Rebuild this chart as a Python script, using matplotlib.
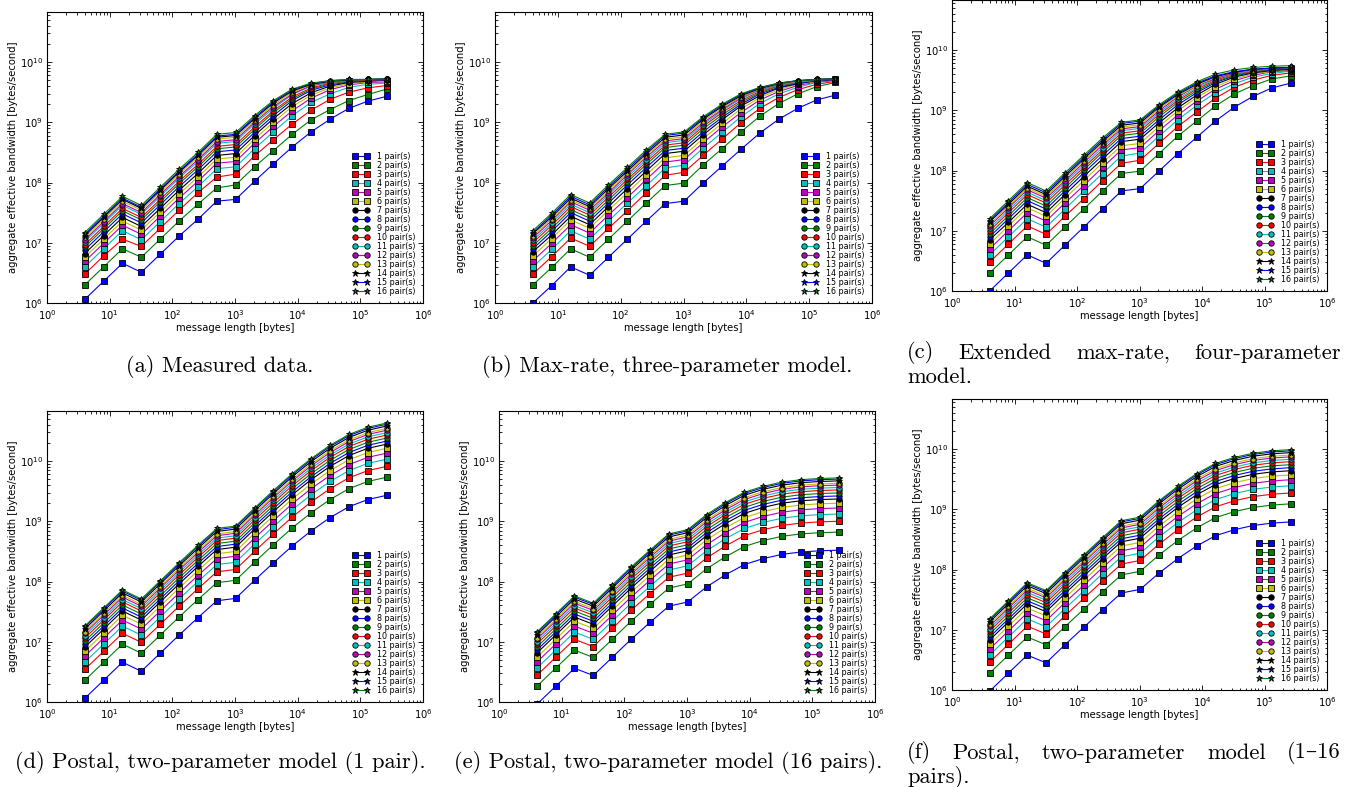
import numpy as np
import matplotlib
matplotlib.use('Agg')
import matplotlib.pyplot as plt
from matplotlib.ticker import FixedLocator, LogLocator, NullFormatter

# message sizes on the x axis [bytes]
msg_len = [4, 8, 16, 32, 64, 128, 256, 512, 1024, 2048, 4096, 8192,
           16384, 32768, 65536, 131072, 262144]
pairs = list(range(1, 17))
labels = ['%d pair(s)' % k for k in pairs]

# log10 of the aggregate effective bandwidth [bytes/second],
# one row per number of pairs (1..16), one column per message length

# (a) measured data
bw_measured = [
    [6.06, 6.36, 6.66, 6.51, 6.81, 7.11, 7.39, 7.69, 7.72, 8.02, 8.31, 8.59, 8.84, 9.05, 9.23, 9.35, 9.43],
    [6.30, 6.60, 6.90, 6.76, 7.06, 7.36, 7.64, 7.91, 7.96, 8.26, 8.53, 8.80, 9.04, 9.21, 9.36, 9.46, 9.55],
    [6.48, 6.78, 7.06, 6.94, 7.24, 7.54, 7.83, 8.09, 8.14, 8.44, 8.71, 8.97, 9.20, 9.38, 9.50, 9.57, 9.61],
    [6.60, 6.90, 7.20, 7.05, 7.35, 7.65, 7.93, 8.23, 8.26, 8.56, 8.84, 9.11, 9.33, 9.47, 9.58, 9.63, 9.65],
    [6.69, 6.99, 7.29, 7.14, 7.44, 7.74, 8.02, 8.32, 8.35, 8.65, 8.93, 9.19, 9.40, 9.54, 9.62, 9.66, 9.67],
    [6.76, 7.06, 7.36, 7.21, 7.51, 7.81, 8.09, 8.39, 8.42, 8.72, 9.00, 9.26, 9.45, 9.57, 9.64, 9.67, 9.69],
    [6.82, 7.12, 7.42, 7.27, 7.57, 7.87, 8.15, 8.45, 8.48, 8.78, 9.06, 9.31, 9.49, 9.60, 9.66, 9.68, 9.70],
    [6.88, 7.18, 7.48, 7.33, 7.63, 7.93, 8.21, 8.51, 8.54, 8.83, 9.11, 9.36, 9.53, 9.62, 9.67, 9.69, 9.70],
    [6.93, 7.23, 7.53, 7.38, 7.68, 7.98, 8.26, 8.56, 8.59, 8.88, 9.16, 9.39, 9.55, 9.64, 9.68, 9.70, 9.71],
    [6.97, 7.27, 7.57, 7.42, 7.72, 8.02, 8.30, 8.60, 8.63, 8.92, 9.19, 9.42, 9.57, 9.65, 9.69, 9.70, 9.71],
    [7.02, 7.32, 7.62, 7.47, 7.77, 8.07, 8.35, 8.65, 8.68, 8.97, 9.23, 9.46, 9.60, 9.66, 9.69, 9.71, 9.71],
    [7.05, 7.35, 7.65, 7.50, 7.80, 8.10, 8.38, 8.68, 8.71, 9.00, 9.26, 9.47, 9.61, 9.67, 9.70, 9.71, 9.71],
    [7.09, 7.39, 7.69, 7.54, 7.84, 8.14, 8.42, 8.72, 8.75, 9.03, 9.29, 9.50, 9.62, 9.68, 9.70, 9.71, 9.71],
    [7.12, 7.42, 7.72, 7.57, 7.87, 8.17, 8.45, 8.75, 8.78, 9.06, 9.32, 9.52, 9.63, 9.68, 9.70, 9.71, 9.72],
    [7.14, 7.44, 7.74, 7.59, 7.89, 8.19, 8.47, 8.77, 8.80, 9.08, 9.34, 9.54, 9.64, 9.69, 9.71, 9.71, 9.72],
    [7.17, 7.47, 7.77, 7.62, 7.92, 8.22, 8.50, 8.80, 8.83, 9.11, 9.36, 9.55, 9.65, 9.69, 9.71, 9.71, 9.72],
]

# (b) max-rate, three-parameter model
bw_maxrate = [
    [6.00, 6.29, 6.60, 6.46, 6.76, 7.06, 7.36, 7.65, 7.69, 7.99, 8.27, 8.55, 8.82, 9.05, 9.23, 9.37, 9.45],
    [6.30, 6.59, 6.90, 6.76, 7.06, 7.36, 7.66, 7.95, 7.99, 8.29, 8.56, 8.84, 9.10, 9.31, 9.47, 9.59, 9.66],
    [6.48, 6.77, 7.08, 6.94, 7.24, 7.53, 7.83, 8.12, 8.17, 8.45, 8.72, 8.99, 9.23, 9.41, 9.54, 9.63, 9.68],
    [6.60, 6.89, 7.20, 7.06, 7.36, 7.66, 7.95, 8.24, 8.29, 8.57, 8.83, 9.09, 9.31, 9.47, 9.58, 9.66, 9.69],
    [6.70, 6.99, 7.30, 7.16, 7.46, 7.75, 8.05, 8.34, 8.38, 8.66, 8.92, 9.16, 9.37, 9.51, 9.61, 9.67, 9.70],
    [6.78, 7.07, 7.38, 7.24, 7.54, 7.83, 8.13, 8.41, 8.45, 8.73, 8.98, 9.22, 9.41, 9.54, 9.63, 9.68, 9.71],
    [6.85, 7.13, 7.44, 7.30, 7.60, 7.90, 8.19, 8.48, 8.52, 8.79, 9.04, 9.27, 9.44, 9.57, 9.64, 9.69, 9.71],
    [6.90, 7.19, 7.50, 7.36, 7.66, 7.96, 8.25, 8.53, 8.57, 8.84, 9.08, 9.30, 9.47, 9.58, 9.65, 9.69, 9.71],
    [6.95, 7.24, 7.55, 7.41, 7.71, 8.01, 8.30, 8.58, 8.62, 8.89, 9.12, 9.33, 9.49, 9.60, 9.66, 9.70, 9.72],
    [7.00, 7.29, 7.60, 7.46, 7.76, 8.05, 8.34, 8.62, 8.66, 8.93, 9.16, 9.36, 9.51, 9.61, 9.67, 9.70, 9.72],
    [7.04, 7.33, 7.64, 7.50, 7.80, 8.09, 8.38, 8.66, 8.70, 8.96, 9.19, 9.39, 9.53, 9.62, 9.67, 9.70, 9.72],
    [7.08, 7.37, 7.68, 7.54, 7.83, 8.13, 8.42, 8.69, 8.73, 8.99, 9.21, 9.41, 9.54, 9.63, 9.68, 9.71, 9.72],
    [7.11, 7.40, 7.71, 7.57, 7.87, 8.16, 8.45, 8.72, 8.76, 9.02, 9.24, 9.42, 9.55, 9.64, 9.68, 9.71, 9.72],
    [7.15, 7.43, 7.74, 7.60, 7.90, 8.19, 8.48, 8.75, 8.79, 9.05, 9.26, 9.44, 9.56, 9.64, 9.69, 9.71, 9.72],
    [7.17, 7.46, 7.77, 7.63, 7.93, 8.22, 8.51, 8.78, 8.82, 9.07, 9.28, 9.46, 9.57, 9.65, 9.69, 9.71, 9.72],
    [7.20, 7.49, 7.80, 7.66, 7.96, 8.25, 8.54, 8.80, 8.84, 9.09, 9.30, 9.47, 9.58, 9.65, 9.69, 9.71, 9.72],
]

# (c) extended max-rate, four-parameter model
bw_extended = [
    [6.00, 6.30, 6.60, 6.46, 6.76, 7.06, 7.36, 7.66, 7.70, 7.99, 8.28, 8.55, 8.82, 9.05, 9.23, 9.37, 9.45],
    [6.30, 6.60, 6.90, 6.76, 7.06, 7.36, 7.66, 7.95, 7.99, 8.28, 8.57, 8.82, 9.07, 9.27, 9.41, 9.52, 9.57],
    [6.48, 6.78, 7.08, 6.94, 7.24, 7.53, 7.83, 8.12, 8.17, 8.45, 8.73, 8.97, 9.20, 9.38, 9.50, 9.58, 9.62],
    [6.60, 6.90, 7.20, 7.06, 7.36, 7.66, 7.95, 8.24, 8.29, 8.57, 8.84, 9.08, 9.29, 9.44, 9.55, 9.61, 9.65],
    [6.70, 7.00, 7.30, 7.16, 7.46, 7.75, 8.05, 8.34, 8.38, 8.66, 8.92, 9.15, 9.35, 9.49, 9.58, 9.64, 9.66],
    [6.78, 7.08, 7.38, 7.24, 7.54, 7.83, 8.13, 8.41, 8.45, 8.73, 8.99, 9.21, 9.39, 9.52, 9.60, 9.65, 9.68],
    [6.85, 7.14, 7.44, 7.30, 7.60, 7.90, 8.19, 8.48, 8.52, 8.79, 9.04, 9.25, 9.43, 9.55, 9.62, 9.66, 9.68],
    [6.90, 7.20, 7.50, 7.36, 7.66, 7.96, 8.25, 8.53, 8.57, 8.84, 9.09, 9.29, 9.46, 9.57, 9.63, 9.67, 9.69],
    [6.95, 7.25, 7.55, 7.41, 7.71, 8.01, 8.30, 8.58, 8.62, 8.89, 9.13, 9.32, 9.48, 9.58, 9.64, 9.68, 9.70],
    [7.00, 7.30, 7.60, 7.46, 7.76, 8.05, 8.34, 8.62, 8.66, 8.93, 9.16, 9.35, 9.50, 9.60, 9.65, 9.69, 9.70],
    [7.04, 7.34, 7.64, 7.50, 7.80, 8.09, 8.38, 8.66, 8.70, 8.96, 9.19, 9.37, 9.52, 9.61, 9.66, 9.69, 9.70],
    [7.08, 7.38, 7.68, 7.54, 7.83, 8.13, 8.42, 8.69, 8.73, 8.99, 9.22, 9.40, 9.53, 9.62, 9.67, 9.69, 9.71],
    [7.11, 7.41, 7.71, 7.57, 7.87, 8.16, 8.45, 8.72, 8.76, 9.02, 9.24, 9.41, 9.55, 9.63, 9.67, 9.70, 9.71],
    [7.15, 7.44, 7.74, 7.60, 7.90, 8.19, 8.48, 8.75, 8.79, 9.05, 9.26, 9.43, 9.56, 9.63, 9.68, 9.70, 9.71],
    [7.17, 7.47, 7.77, 7.63, 7.93, 8.22, 8.51, 8.78, 8.82, 9.07, 9.28, 9.45, 9.57, 9.64, 9.68, 9.70, 9.71],
    [7.20, 7.50, 7.80, 7.66, 7.96, 8.25, 8.54, 8.80, 8.84, 9.09, 9.30, 9.47, 9.60, 9.67, 9.71, 9.73, 9.74],
]

# (d) postal, two-parameter model fitted on 1 pair
bw_postal_1 = [
    [6.06, 6.36, 6.66, 6.51, 6.81, 7.11, 7.40, 7.68, 7.72, 8.02, 8.31, 8.59, 8.84, 9.06, 9.24, 9.36, 9.43],
    [6.36, 6.66, 6.96, 6.81, 7.11, 7.41, 7.70, 7.98, 8.02, 8.32, 8.61, 8.89, 9.14, 9.36, 9.54, 9.66, 9.73],
    [6.54, 6.84, 7.14, 6.99, 7.29, 7.59, 7.88, 8.16, 8.20, 8.50, 8.79, 9.07, 9.32, 9.54, 9.72, 9.84, 9.91],
    [6.66, 6.96, 7.26, 7.11, 7.41, 7.71, 8.00, 8.28, 8.32, 8.62, 8.91, 9.19, 9.44, 9.66, 9.84, 9.96, 10.03],
    [6.76, 7.06, 7.36, 7.21, 7.51, 7.81, 8.10, 8.38, 8.42, 8.72, 9.01, 9.29, 9.54, 9.76, 9.94, 10.06, 10.13],
    [6.84, 7.14, 7.44, 7.29, 7.59, 7.89, 8.18, 8.46, 8.50, 8.80, 9.09, 9.37, 9.62, 9.84, 10.02, 10.14, 10.21],
    [6.91, 7.21, 7.51, 7.36, 7.66, 7.96, 8.25, 8.53, 8.57, 8.87, 9.16, 9.44, 9.69, 9.91, 10.09, 10.21, 10.28],
    [6.96, 7.26, 7.56, 7.41, 7.71, 8.01, 8.30, 8.58, 8.62, 8.92, 9.21, 9.49, 9.74, 9.96, 10.14, 10.26, 10.33],
    [7.01, 7.31, 7.61, 7.46, 7.76, 8.06, 8.35, 8.63, 8.67, 8.97, 9.26, 9.54, 9.79, 10.01, 10.19, 10.31, 10.38],
    [7.06, 7.36, 7.66, 7.51, 7.81, 8.11, 8.40, 8.68, 8.72, 9.02, 9.31, 9.59, 9.84, 10.06, 10.24, 10.36, 10.43],
    [7.10, 7.40, 7.70, 7.55, 7.85, 8.15, 8.44, 8.72, 8.76, 9.06, 9.35, 9.63, 9.88, 10.10, 10.28, 10.40, 10.47],
    [7.14, 7.44, 7.74, 7.59, 7.89, 8.19, 8.48, 8.76, 8.80, 9.10, 9.39, 9.67, 9.92, 10.14, 10.32, 10.44, 10.51],
    [7.17, 7.47, 7.77, 7.62, 7.92, 8.22, 8.51, 8.79, 8.83, 9.13, 9.42, 9.70, 9.95, 10.17, 10.35, 10.47, 10.54],
    [7.21, 7.51, 7.81, 7.66, 7.96, 8.26, 8.55, 8.83, 8.87, 9.17, 9.46, 9.74, 9.99, 10.21, 10.39, 10.51, 10.58],
    [7.24, 7.54, 7.84, 7.69, 7.99, 8.29, 8.58, 8.86, 8.90, 9.20, 9.49, 9.77, 10.02, 10.24, 10.42, 10.54, 10.61],
    [7.26, 7.56, 7.86, 7.71, 8.01, 8.31, 8.60, 8.88, 8.92, 9.22, 9.51, 9.79, 10.04, 10.26, 10.44, 10.56, 10.63],
]

# (e) postal, two-parameter model fitted on 16 pairs
bw_postal_16 = [
    [5.96, 6.26, 6.56, 6.44, 6.74, 7.04, 7.32, 7.59, 7.66, 7.91, 8.11, 8.28, 8.38, 8.45, 8.49, 8.51, 8.52],
    [6.26, 6.56, 6.86, 6.74, 7.04, 7.34, 7.62, 7.89, 7.96, 8.21, 8.41, 8.58, 8.68, 8.75, 8.79, 8.81, 8.82],
    [6.44, 6.74, 7.04, 6.92, 7.22, 7.52, 7.80, 8.07, 8.14, 8.39, 8.59, 8.76, 8.86, 8.93, 8.97, 8.99, 9.00],
    [6.56, 6.86, 7.16, 7.04, 7.34, 7.64, 7.92, 8.19, 8.26, 8.51, 8.71, 8.88, 8.98, 9.05, 9.09, 9.11, 9.12],
    [6.66, 6.96, 7.26, 7.14, 7.44, 7.74, 8.02, 8.29, 8.36, 8.61, 8.81, 8.98, 9.08, 9.15, 9.19, 9.21, 9.22],
    [6.74, 7.04, 7.34, 7.22, 7.52, 7.82, 8.10, 8.37, 8.44, 8.69, 8.89, 9.06, 9.16, 9.23, 9.27, 9.29, 9.30],
    [6.81, 7.11, 7.41, 7.29, 7.59, 7.89, 8.17, 8.44, 8.51, 8.76, 8.96, 9.13, 9.23, 9.30, 9.34, 9.36, 9.37],
    [6.86, 7.16, 7.46, 7.34, 7.64, 7.94, 8.22, 8.49, 8.56, 8.81, 9.01, 9.18, 9.28, 9.35, 9.39, 9.41, 9.42],
    [6.91, 7.21, 7.51, 7.39, 7.69, 7.99, 8.27, 8.54, 8.61, 8.86, 9.06, 9.23, 9.33, 9.40, 9.44, 9.46, 9.47],
    [6.96, 7.26, 7.56, 7.44, 7.74, 8.04, 8.32, 8.59, 8.66, 8.91, 9.11, 9.28, 9.38, 9.45, 9.49, 9.51, 9.52],
    [7.00, 7.30, 7.60, 7.48, 7.78, 8.08, 8.36, 8.63, 8.70, 8.95, 9.15, 9.32, 9.42, 9.49, 9.53, 9.55, 9.56],
    [7.04, 7.34, 7.64, 7.52, 7.82, 8.12, 8.40, 8.67, 8.74, 8.99, 9.19, 9.36, 9.46, 9.53, 9.57, 9.59, 9.60],
    [7.07, 7.37, 7.67, 7.55, 7.85, 8.15, 8.43, 8.70, 8.77, 9.02, 9.22, 9.39, 9.49, 9.56, 9.60, 9.62, 9.63],
    [7.11, 7.41, 7.71, 7.59, 7.89, 8.19, 8.47, 8.74, 8.81, 9.06, 9.26, 9.43, 9.53, 9.60, 9.64, 9.66, 9.67],
    [7.14, 7.44, 7.74, 7.62, 7.92, 8.22, 8.50, 8.77, 8.84, 9.09, 9.29, 9.46, 9.56, 9.63, 9.67, 9.69, 9.70],
    [7.16, 7.46, 7.76, 7.64, 7.94, 8.24, 8.52, 8.79, 8.86, 9.11, 9.31, 9.48, 9.58, 9.65, 9.69, 9.71, 9.72],
]

# (f) postal, two-parameter model fitted on 1-16 pairs
bw_postal_all = [
    [5.98, 6.28, 6.58, 6.45, 6.75, 7.04, 7.33, 7.61, 7.67, 7.94, 8.18, 8.39, 8.56, 8.66, 8.73, 8.77, 8.79],
    [6.28, 6.58, 6.88, 6.75, 7.05, 7.34, 7.63, 7.91, 7.97, 8.24, 8.48, 8.69, 8.86, 8.96, 9.03, 9.07, 9.09],
    [6.46, 6.76, 7.06, 6.93, 7.23, 7.52, 7.81, 8.09, 8.15, 8.42, 8.66, 8.87, 9.04, 9.14, 9.21, 9.25, 9.27],
    [6.58, 6.88, 7.18, 7.05, 7.35, 7.64, 7.93, 8.21, 8.27, 8.54, 8.78, 8.99, 9.16, 9.26, 9.33, 9.37, 9.39],
    [6.68, 6.98, 7.28, 7.15, 7.45, 7.74, 8.03, 8.31, 8.37, 8.64, 8.88, 9.09, 9.26, 9.36, 9.43, 9.47, 9.49],
    [6.76, 7.06, 7.36, 7.23, 7.53, 7.82, 8.11, 8.39, 8.45, 8.72, 8.96, 9.17, 9.34, 9.44, 9.51, 9.55, 9.57],
    [6.83, 7.13, 7.43, 7.30, 7.60, 7.89, 8.18, 8.46, 8.52, 8.79, 9.03, 9.24, 9.41, 9.51, 9.58, 9.62, 9.64],
    [6.88, 7.18, 7.48, 7.35, 7.65, 7.94, 8.23, 8.51, 8.57, 8.84, 9.08, 9.29, 9.46, 9.56, 9.63, 9.67, 9.69],
    [6.93, 7.23, 7.53, 7.40, 7.70, 7.99, 8.28, 8.56, 8.62, 8.89, 9.13, 9.34, 9.51, 9.61, 9.68, 9.72, 9.74],
    [6.98, 7.28, 7.58, 7.45, 7.75, 8.04, 8.33, 8.61, 8.67, 8.94, 9.18, 9.39, 9.56, 9.66, 9.73, 9.77, 9.79],
    [7.02, 7.32, 7.62, 7.49, 7.79, 8.08, 8.37, 8.65, 8.71, 8.98, 9.22, 9.43, 9.60, 9.70, 9.77, 9.81, 9.83],
    [7.06, 7.36, 7.66, 7.53, 7.83, 8.12, 8.41, 8.69, 8.75, 9.02, 9.26, 9.47, 9.64, 9.74, 9.81, 9.85, 9.87],
    [7.09, 7.39, 7.69, 7.56, 7.86, 8.15, 8.44, 8.72, 8.78, 9.05, 9.29, 9.50, 9.67, 9.77, 9.84, 9.88, 9.90],
    [7.13, 7.43, 7.73, 7.60, 7.90, 8.19, 8.48, 8.76, 8.82, 9.09, 9.33, 9.54, 9.71, 9.81, 9.88, 9.92, 9.94],
    [7.16, 7.46, 7.76, 7.63, 7.93, 8.22, 8.51, 8.79, 8.85, 9.12, 9.36, 9.57, 9.74, 9.84, 9.91, 9.95, 9.97],
    [7.18, 7.48, 7.78, 7.65, 7.95, 8.24, 8.53, 8.81, 8.87, 9.14, 9.38, 9.59, 9.76, 9.86, 9.93, 9.97, 9.99],
]

panels = [bw_measured, bw_maxrate, bw_extended,
          bw_postal_1, bw_postal_16, bw_postal_all]

x_ticks = [1e0, 1e1, 1e2, 1e3, 1e4, 1e5, 1e6]
y_ticks = [1e6, 1e7, 1e8, 1e9, 1e10]

# old matplotlib colour cycle and marker changes
colors = ['b', 'g', 'r', 'c', 'm', 'y', 'k'] * 3
markers = ['s'] * 6 + ['o'] * 7 + ['*'] * 3

W, H = 1364, 787
cap_font = ['cmr10', 'DejaVu Serif']
cap_size = 16.2

# axes boxes in pixels: left, top, right, bottom
boxes = [(47, 12, 423, 303), (495, 12, 872, 303), (952, 0, 1327, 291),
         (47, 411, 423, 702), (499, 411, 875, 702), (952, 399, 1327, 690)]

plt.rcParams['mathtext.fontset'] = 'dejavusans'
plt.rcParams['axes.formatter.use_mathtext'] = True

fig = plt.figure(figsize=(W / 100, H / 100), dpi=100)

for box, table in zip(boxes, panels):
    l, t, r, b = box
    ax = fig.add_axes([l / W, 1 - b / H, (r - l) / W, (b - t) / H])
    for k, row in enumerate(table):
        ms = 5.0 if markers[k] == '*' else 3.9
        ax.plot(msg_len, 10 ** np.array(row), color=colors[k], marker=markers[k],
                ms=ms, mec='k', mew=0.6, lw=0.8, label=labels[k])
    ax.set_xscale('log')
    ax.set_yscale('log')
    ax.set_xlim(1, 1e6)
    ax.set_ylim(1e6, 10 ** 10.83)
    ax.xaxis.set_major_locator(FixedLocator(x_ticks))
    ax.yaxis.set_major_locator(FixedLocator(y_ticks))
    ax.xaxis.set_minor_locator(LogLocator(subs=np.arange(2, 10), numticks=20))
    ax.yaxis.set_minor_locator(LogLocator(subs=np.arange(2, 10), numticks=20))
    ax.xaxis.set_minor_formatter(NullFormatter())
    ax.yaxis.set_minor_formatter(NullFormatter())
    ax.tick_params(which='both', direction='in', top=True, right=True,
                   labelsize=7.2, width=0.6)
    ax.tick_params(axis='x', pad=3.5)
    ax.tick_params(axis='y', pad=3.0)
    ax.tick_params(which='major', length=3.5)
    ax.tick_params(which='minor', length=1.8)
    for s in ax.spines.values():
        s.set_linewidth(0.8)
    ax.set_xlabel('message length [bytes]', fontsize=7.2, labelpad=1)
    ax.set_ylabel('aggregate effective bandwidth [bytes/second]', fontsize=7.2, labelpad=1)
    ax.legend(loc='lower right', fontsize=5.8, frameon=False, numpoints=2,
              labelspacing=0.0, handlelength=2.1, handletextpad=1.0)


def caption(text, xc, yc):
    fig.text(xc / W, 1 - yc / H, text, fontsize=cap_size, family=cap_font,
             ha='center', va='center')


def justified(words, x0, x1, yc, last):
    rend = fig.canvas.get_renderer()
    txts = [fig.text(0, 1 - yc / H, w, fontsize=cap_size, family=cap_font, va='center')
            for w in words]
    widths = [tx.get_window_extent(rend).width for tx in txts]
    gap = (x1 - x0 - sum(widths)) / (len(words) - 1)
    x = x0
    for tx, w in zip(txts, widths):
        tx.set_x(x / W)
        x += w + gap
    fig.text(x0 / W, 1 - (yc + 24) / H, last, fontsize=cap_size, family=cap_font,
             va='center')


caption('(a) Measured data.', 220, 367)
caption('(b) Max-rate, three-parameter model.', 667, 367)
justified(['(c)', 'Extended', 'max-rate,', 'four-parameter'], 907, 1341, 353, 'model.')
caption('(d) Postal, two-parameter model (1 pair).', 220, 763)
caption('(e) Postal, two-parameter model (16 pairs).', 668, 763)
justified(['(f)', 'Postal,', 'two-parameter', 'model', '(1\u201316'], 907, 1341, 753, 'pairs).')

fig.savefig('out.png', dpi=100)
